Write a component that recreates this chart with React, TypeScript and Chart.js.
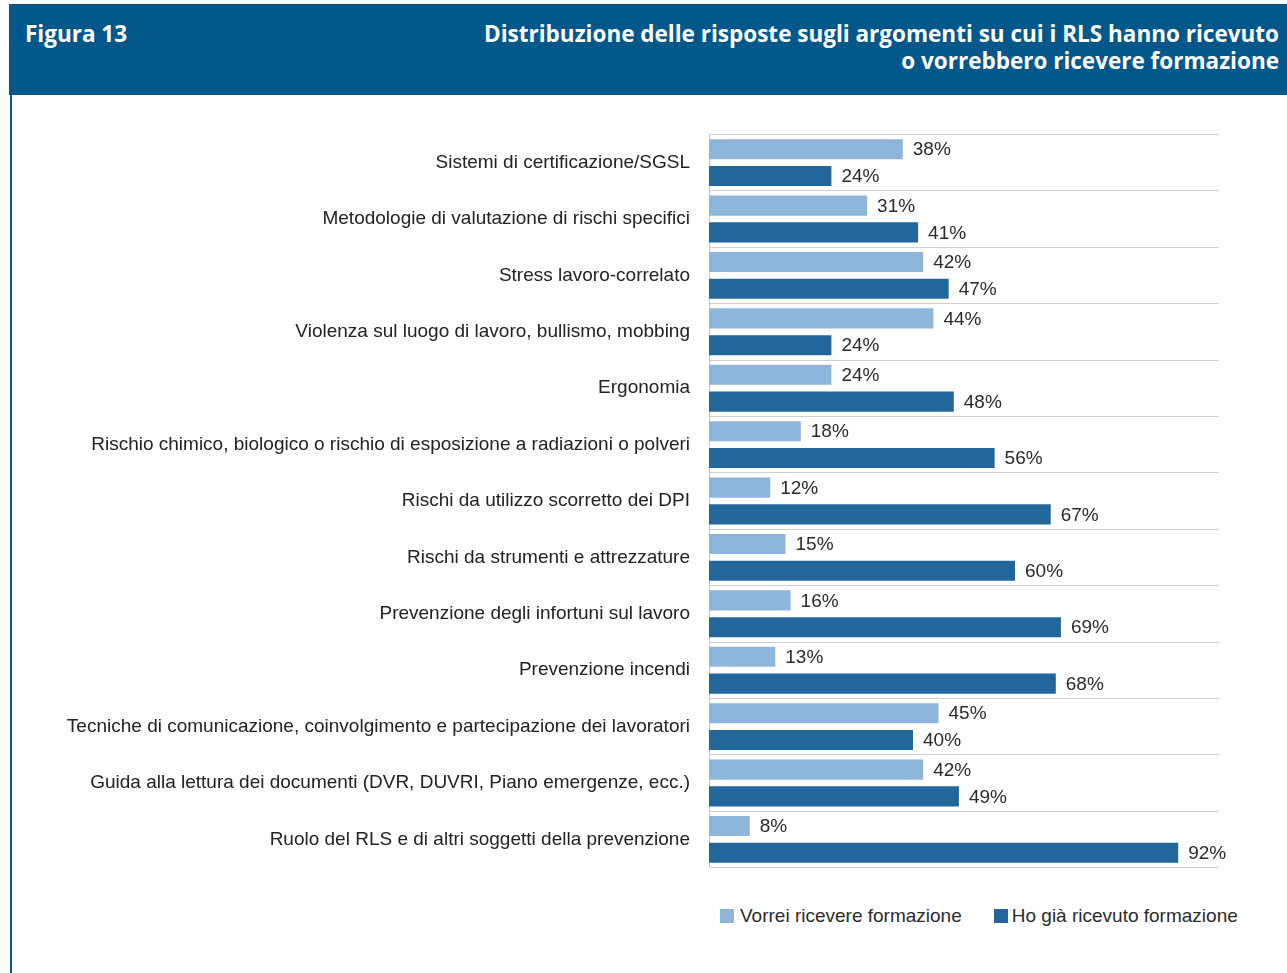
import React, { useEffect, useRef } from "react";
import { Chart, registerables } from "chart.js";

Chart.register(...registerables);

const categories = [
  "Sistemi di certificazione/SGSL",
  "Metodologie di valutazione di rischi specifici",
  "Stress lavoro-correlato",
  "Violenza sul luogo di lavoro, bullismo, mobbing",
  "Ergonomia",
  "Rischio chimico, biologico o rischio di esposizione a radiazioni o polveri",
  "Rischi da utilizzo scorretto dei DPI",
  "Rischi da strumenti e attrezzature",
  "Prevenzione degli infortuni sul lavoro",
  "Prevenzione incendi",
  "Tecniche di comunicazione, coinvolgimento e partecipazione dei lavoratori",
  "Guida alla lettura dei documenti (DVR, DUVRI, Piano emergenze, ecc.)",
  "Ruolo del RLS e di altri soggetti della prevenzione",
];
const vorrei = [38, 31, 42, 44, 24, 18, 12, 15, 16, 13, 45, 42, 8];
const giaRicevuto = [24, 41, 47, 24, 48, 56, 67, 60, 69, 68, 40, 49, 92];
const seriesNames = ["Vorrei ricevere formazione", "Ho già ricevuto formazione"];

const LIGHT = "#8db6da";
const DARK = "#22679c";
const HEADER = "#02578b";
const FONT = "'Liberation Sans', Arial, sans-serif";

const valueLabels = {
  id: "valueLabels",
  afterDatasetsDraw(chart: any) {
    const ctx = chart.ctx;
    ctx.save();
    ctx.font = `19px ${FONT}`;
    ctx.fillStyle = "#2b2b2b";
    ctx.textAlign = "left";
    ctx.textBaseline = "middle";
    chart.data.datasets.forEach((ds: any, di: number) => {
      const meta = chart.getDatasetMeta(di);
      meta.data.forEach((bar: any, i: number) => {
        ctx.fillText(`${ds.data[i]}%`, bar.x + 10, bar.y + 1);
      });
    });
    ctx.restore();
  },
};

export default function App() {
  const ref = useRef<HTMLCanvasElement>(null);
  useEffect(() => {
    if (!ref.current) return;
    const chart = new Chart(ref.current, {
      type: "bar",
      data: {
        labels: categories,
        datasets: [
          {
            label: seriesNames[0],
            data: vorrei,
            backgroundColor: LIGHT,
            categoryPercentage: 0.95,
            barPercentage: 0.75,
          },
          {
            label: seriesNames[1],
            data: giaRicevuto,
            backgroundColor: DARK,
            categoryPercentage: 0.95,
            barPercentage: 0.75,
          },
        ],
      },
      options: {
        indexAxis: "y",
        animation: false,
        responsive: false,
        maintainAspectRatio: false,
        layout: { padding: { top: 14, right: 41, bottom: 13, left: 0 } },
        plugins: { legend: { display: false }, tooltip: { enabled: false } },
        scales: {
          x: { display: false, min: 0, max: 100 },
          y: {
            afterFit(scale: any) {
              scale.width = 689;
            },
            grid: { color: "#d0d0d0", drawTicks: false, offset: true, lineWidth: 1 },
            border: { color: "#c8c8c8" },
            ticks: {
              padding: 19,
              color: "#222",
              font: { family: FONT, size: 19 },
            },
          },
        },
      },
      plugins: [valueLabels],
    });
    return () => chart.destroy();
  }, []);

  return (
    <div
      style={{
        position: "absolute",
        left: 0,
        top: 0,
        width: 1287,
        height: 973,
        background: "#fff",
        overflow: "hidden",
      }}
    >
      <div
        style={{
          position: "absolute",
          left: 9,
          top: 4,
          width: 1278,
          height: 91,
          background: HEADER,
          color: "#fff",
          fontFamily: "'Open Sans', sans-serif",
          fontWeight: 700,
          fontSize: 22.5,
        }}
      >
        <div style={{ position: "absolute", left: 16, top: 16, lineHeight: "27px" }}>Figura 13</div>
        <div
          style={{
            position: "absolute",
            right: 8,
            top: 16,
            textAlign: "right",
            lineHeight: "27px",
          }}
        >
          Distribuzione delle risposte sugli argomenti su cui i RLS hanno ricevuto
          <br />o vorrebbero ricevere formazione
        </div>
      </div>
      <div style={{ position: "absolute", left: 10, top: 95, width: 2, height: 878, background: HEADER }} />
      <canvas
        ref={ref}
        width={1240}
        height={794}
        style={{ position: "absolute", left: 20, top: 104, width: 1240, height: 794 }}
      />
      <div
        style={{
          position: "absolute",
          top: 905,
          left: 720,
          fontFamily: FONT,
          fontSize: 19,
          color: "#2b2b2b",
          display: "flex",
          alignItems: "center",
          whiteSpace: "nowrap",
        }}
      >
        <span style={{ display: "inline-block", width: 14, height: 14, background: LIGHT, marginRight: 6 }} />
        <span>{seriesNames[0]}</span>
        <span style={{ display: "inline-block", width: 14, height: 14, background: DARK, marginLeft: 32, marginRight: 4 }} />
        <span>{seriesNames[1]}</span>
      </div>
    </div>
  );
}
